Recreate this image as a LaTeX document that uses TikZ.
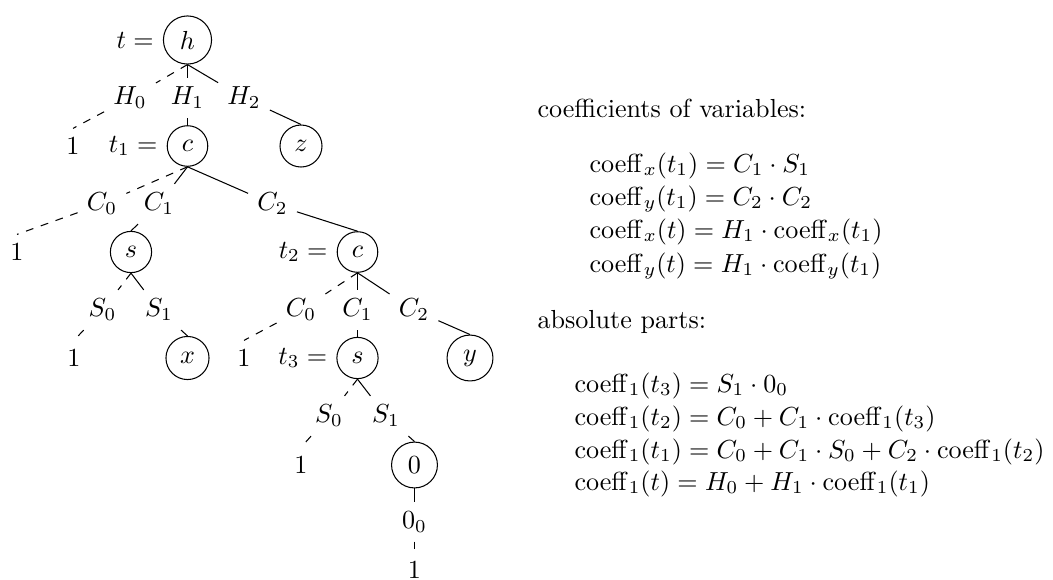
\documentclass[tikz,border=0pt]{standalone}
\usepackage{amsmath}
\begin{document}
\begin{tikzpicture}[x=0.3831pt,y=-0.3831pt,
  vnode/.style={circle,draw,inner sep=3.333pt},
  elab/.style={inner sep=3.333pt},
  leaf/.style={inner sep=3.333pt},
  eqname/.style={anchor=east,inner sep=3.333pt},
  zedge/.style={dashed},
  txt/.style={anchor=base west,inner sep=0pt}]
\useasboundingbox (0,0) rectangle (1053,579);
% tree nodes
\node[vnode] (h) at (187.5,40) {$h$};
\node[eqname] (th) at (h.west) {$t =$};
\node[elab] (lH0) at (130,98) {$H_0$};
\node[elab] (lH1) at (187.5,98) {$H_1$};
\node[elab] (lH2) at (244,98) {$H_2$};
\node[leaf] (one1) at (73,146) {$1$};
\node[vnode] (c1) at (187.5,146) {$c$};
\node[eqname] (tc1) at (c1.west) {$t_1 =$};
\node[vnode] (z) at (301,146) {$z$};
\node[elab] (lC0a) at (102,204) {$C_0$};
\node[elab] (lC1a) at (159,204) {$C_1$};
\node[elab] (lC2a) at (272.5,204) {$C_2$};
\node[leaf] (one2) at (17,252) {$1$};
\node[vnode] (s1) at (131,252) {$s$};
\node[vnode] (c2) at (357.5,252) {$c$};
\node[eqname] (tc2) at (c2.west) {$t_2 =$};
\node[elab] (lS0a) at (102.5,310) {$S_0$};
\node[elab] (lS1a) at (159,310) {$S_1$};
\node[elab] (lC0b) at (301,310) {$C_0$};
\node[elab] (lC1b) at (357.5,310) {$C_1$};
\node[elab] (lC2b) at (414,310) {$C_2$};
\node[leaf] (one3) at (74,358) {$1$};
\node[vnode] (x) at (187.5,358) {$x$};
\node[leaf] (one4) at (244,358) {$1$};
\node[vnode] (s2) at (357.5,358) {$s$};
\node[eqname] (ts2) at (s2.west) {$t_3 =$};
\node[vnode] (y) at (470,358) {$y$};
\node[elab] (lS0b) at (329,416) {$S_0$};
\node[elab] (lS1b) at (386,416) {$S_1$};
\node[leaf] (one5) at (301,465) {$1$};
\node[vnode] (zero) at (414.5,465) {$0$};
\node[elab] (l00) at (414.5,522) {$0_0$};
\node[leaf] (one6) at (414.5,570.5) {$1$};
% edges
\draw[zedge] (h.south) -- (lH0) -- (one1.north);
\draw (h.south) -- (lH1) -- (c1.north);
\draw (h.south) -- (lH2) -- (z.north);
\draw[zedge] (c1.south) -- (lC0a) -- (one2.north);
\draw (c1.south) -- (lC1a) -- (s1.north);
\draw (c1.south) -- (lC2a) -- (c2.north);
\draw[zedge] (s1.south) -- (lS0a) -- (one3.north);
\draw (s1.south) -- (lS1a) -- (x.north);
\draw[zedge] (c2.south) -- (lC0b) -- (one4.north);
\draw (c2.south) -- (lC1b) -- (s2.north);
\draw (c2.south) -- (lC2b) -- (y.north);
\draw[zedge] (s2.south) -- (lS0b) -- (one5.north);
\draw (s2.south) -- (lS1b) -- (zero.north);
\draw (zero.south) -- (l00);
\draw[zedge] (l00) -- (one6.north);
% right text
\node[txt] (hd1) at (537,117) {coefficients of variables:};
\node[txt] (e1) at (589,172) {$\mathrm{coeff}_x(t_1) = C_1 \cdot S_1$};
\node[txt] (e2) at (589,205) {$\mathrm{coeff}_y(t_1) = C_2 \cdot C_2$};
\node[txt] (e3) at (589,238) {$\mathrm{coeff}_x(t) = H_1 \cdot \mathrm{coeff}_x(t_1)$};
\node[txt] (e4) at (589,272) {$\mathrm{coeff}_y(t) = H_1 \cdot \mathrm{coeff}_y(t_1)$};
\node[txt] (hd2) at (537,328) {absolute parts:};
\node[txt] (f1) at (574,392) {$\mathrm{coeff}_1(t_3) = S_1 \cdot 0_0$};
\node[txt] (f2) at (574,425) {$\mathrm{coeff}_1(t_2) = C_0 + C_1 \cdot \mathrm{coeff}_1(t_3)$};
\node[txt] (f3) at (574,458) {$\mathrm{coeff}_1(t_1) = C_0 + C_1 \cdot S_0 + C_2 \cdot \mathrm{coeff}_1(t_2)$};
\node[txt] (f4) at (574,490) {$\mathrm{coeff}_1(t) = H_0 + H_1 \cdot \mathrm{coeff}_1(t_1)$};
\end{tikzpicture}
\end{document}
